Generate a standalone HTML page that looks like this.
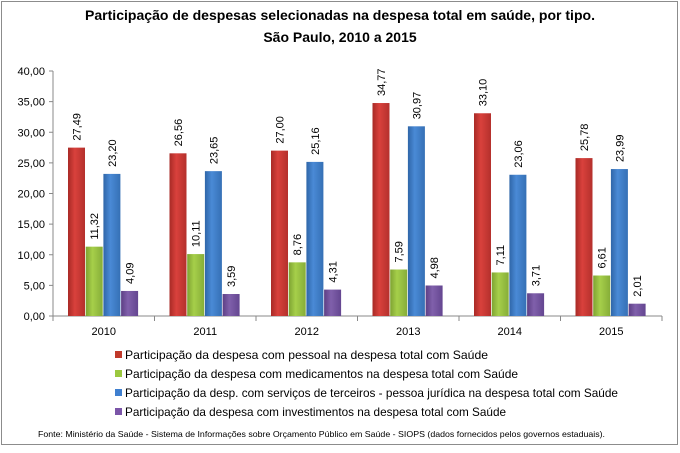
<!DOCTYPE html>
<html><head><meta charset="utf-8"><style>
body{margin:0;background:#fff}
svg text{font-family:"Liberation Sans",sans-serif}
</style></head><body>
<svg id="s" width="680" height="448" xmlns="http://www.w3.org/2000/svg">
<defs>
<linearGradient id="g0" x1="0" x2="1"><stop offset="0" stop-color="#a82a26"/><stop offset="0.4" stop-color="#d9413c"/><stop offset="1" stop-color="#b4302c"/></linearGradient>
<linearGradient id="g1" x1="0" x2="1"><stop offset="0" stop-color="#7ea332"/><stop offset="0.4" stop-color="#a6cf4a"/><stop offset="1" stop-color="#86ad38"/></linearGradient>
<linearGradient id="g2" x1="0" x2="1"><stop offset="0" stop-color="#2f66a8"/><stop offset="0.4" stop-color="#4a8ad6"/><stop offset="1" stop-color="#3570b5"/></linearGradient>
<linearGradient id="g3" x1="0" x2="1"><stop offset="0" stop-color="#5d3f85"/><stop offset="0.4" stop-color="#8060ab"/><stop offset="1" stop-color="#644690"/></linearGradient>
</defs>
<rect x="1.5" y="1.5" width="676" height="443" fill="#fff" stroke="#8c8c8c"/>
<text x="340" y="20" text-anchor="middle" font-size="14" font-weight="bold" textLength="510" lengthAdjust="spacingAndGlyphs">Participação de despesas selecionadas na despesa total em saúde, por tipo.</text>
<text x="340" y="42" text-anchor="middle" font-size="14" font-weight="bold">São Paulo, 2010 a 2015</text>
<g id="plot"></g>
</svg>
<script>
var d=[[27.49,11.32,23.20,4.09],[26.56,10.11,23.65,3.59],[27.00,8.76,25.16,4.31],[34.77,7.59,30.97,4.98],[33.10,7.11,23.06,3.71],[25.78,6.61,23.99,2.01]];
var yrs=["2010","2011","2012","2013","2014","2015"];
var cols=["#c0392b","#9bc83f","#3f7fcf","#7b55a8"];
var h='',y0=316,k=6.125,x0=53,cw=101.5;
h+='<line x1="53" y1="71" x2="53" y2="316" stroke="#888"/><line x1="53" y1="316" x2="662" y2="316" stroke="#888"/>';
for(var i=0;i<=8;i++){var y=y0-i*5*k;h+='<line x1="49" y1="'+y+'" x2="53" y2="'+y+'" stroke="#888"/><text x="45" y="'+(y+4)+'" text-anchor="end" font-size="11">'+(i*5).toFixed(2).replace('.',',')+'</text>';}
for(var c=0;c<=6;c++){var x=x0+c*cw;h+='<line x1="'+x+'" y1="316" x2="'+x+'" y2="321" stroke="#888"/>';}
for(var c=0;c<6;c++){var gx=x0+c*cw+15;
 h+='<text x="'+(x0+c*cw+cw/2)+'" y="335" text-anchor="middle" font-size="11">'+yrs[c]+'</text>';
 for(var s=0;s<4;s++){var v=d[c][s],bx=gx+s*17.7,bh=v*k,by=y0-bh;
  h+='<rect x="'+bx+'" y="'+by+'" width="17" height="'+bh+'" fill="url(#g'+s+')"/>';
  var tx=bx+12.5,ty=by-7;
  h+='<text transform="translate('+tx+','+ty+') rotate(-90)" font-size="11">'+v.toFixed(2).replace('.',',')+'</text>';}}
var L=["Participação da despesa com pessoal na despesa total com Saúde","Participação da despesa com medicamentos na despesa total com Saúde","Participação da desp. com serviços de terceiros - pessoa jurídica na despesa total com Saúde","Participação da despesa com investimentos na despesa total com Saúde"];
var W=[363,393,493,381];
for(var s=0;s<4;s++){var y=355+s*19;h+='<rect x="115" y="'+(y-4)+'" width="7" height="7" fill="'+cols[s]+'"/><text x="125" y="'+(y+4)+'" font-size="12" textLength="'+W[s]+'" lengthAdjust="spacingAndGlyphs">'+L[s]+'</text>';}
h+='<text x="38" y="437" font-size="8.5" textLength="567" lengthAdjust="spacingAndGlyphs">Fonte: Ministério da Saúde - Sistema de Informações sobre Orçamento Público em Saúde - SIOPS (dados fornecidos pelos governos estaduais).</text>';
document.getElementById('plot').innerHTML=h;
</script>
</body></html>
